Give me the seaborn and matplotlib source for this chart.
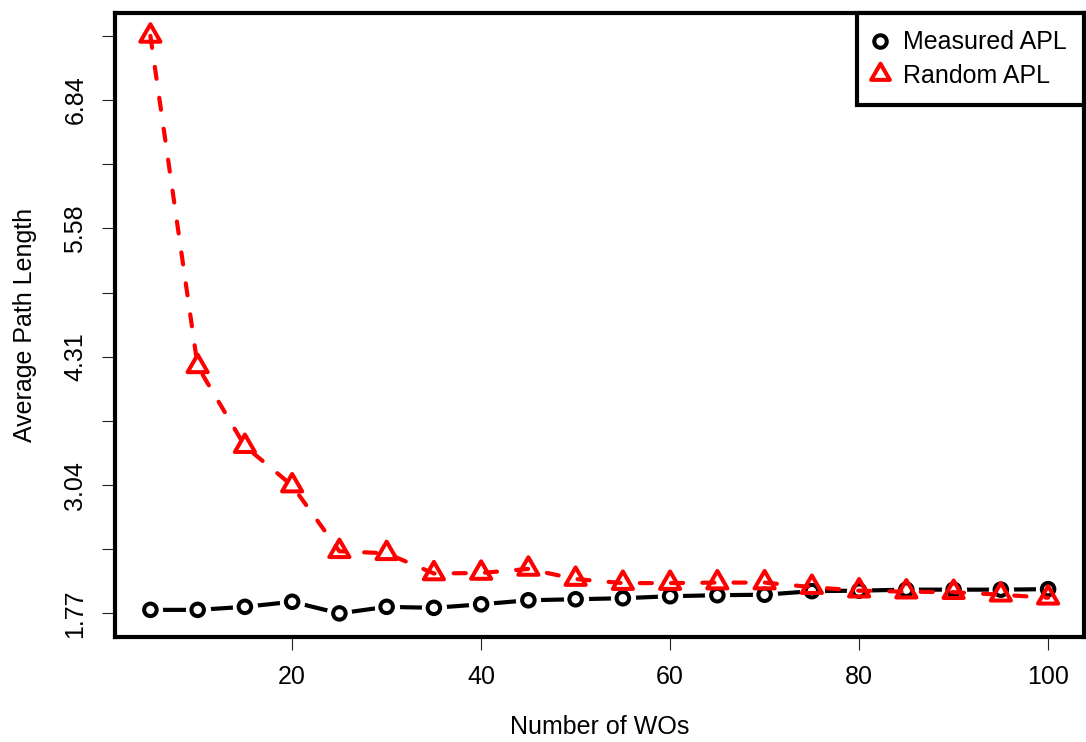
import numpy as np
import pandas as pd
import matplotlib
matplotlib.use("Agg")
import matplotlib.pyplot as plt
import seaborn as sns
from matplotlib.path import Path
from matplotlib.lines import Line2D

# ---- data -------------------------------------------------------------
num_wos = [5, 10, 15, 20, 25, 30, 35, 40, 45, 50,
           55, 60, 65, 70, 75, 80, 85, 90, 95, 100]
measured_apl = [1.80, 1.80, 1.83, 1.88, 1.765, 1.83, 1.82, 1.855, 1.895, 1.905,
                1.915, 1.935, 1.945, 1.95, 1.985, 1.99, 2.00, 2.00, 2.00, 2.005]
random_apl = [7.48, 4.21, 3.42, 3.03, 2.38, 2.36, 2.16, 2.165, 2.205, 2.105,
              2.065, 2.065, 2.07, 2.07, 2.025, 1.99, 1.98, 1.975, 1.95, 1.92]
x_ticks = [20, 40, 60, 80, 100]
y_tick_min, y_tick_max, y_tick_count = 1.765, 7.48, 10
y_tick_labels = ["1.77", "", "3.04", "", "4.31", "", "5.58", "", "6.84", ""]
series_labels = ["Measured APL", "Random APL"]
x_label = "Number of WOs"
y_label = "Average Path Length"

# ---- style ------------------------------------------------------------
sns.set_style("white")
plt.rcParams["font.family"] = ["Liberation Sans", "DejaVu Sans"]
plt.rcParams["text.color"] = "black"
plt.rcParams["axes.labelcolor"] = "black"
plt.rcParams["xtick.color"] = "black"
plt.rcParams["ytick.color"] = "black"
FS = 18

W, H = 1086, 742
fig = plt.figure(figsize=(W / 100, H / 100), dpi=100)
left, right, top, bottom = 114.5, 1084.0, 12.8, 636.5
ax = fig.add_axes([left / W, 1 - bottom / H, (right - left) / W, (bottom - top) / H])

df = pd.DataFrame({"wos": num_wos, "measured": measured_apl, "random": random_apl})

tri = Path([(0, 1), (-0.866, -0.5), (0.866, -0.5), (0, 1)],
           [Path.MOVETO, Path.LINETO, Path.LINETO, Path.CLOSEPOLY])

LW = 3.0
MEW = 2.9

# measured series (solid black, open circles, gaps around points)
sns.lineplot(data=df, x="wos", y="measured", ax=ax, color="black",
             linewidth=LW, zorder=2)
sns.scatterplot(data=df, x="wos", y="measured", ax=ax, s=330, color="white",
                linewidth=0, zorder=3)
sns.scatterplot(data=df, x="wos", y="measured", ax=ax, marker="o", s=81,
                facecolor="none", edgecolor="black", linewidth=MEW, zorder=4)

# random series (dashed red, open triangles)
sns.lineplot(data=df, x="wos", y="random", ax=ax, color="red",
             linewidth=LW, zorder=5)
ax.lines[-1].set_dashes((2.9, 4.6))
ax.lines[-1].set_dash_capstyle("round")
sns.scatterplot(data=df, x="wos", y="random", ax=ax, marker=tri, s=280,
                facecolor="none", edgecolor="red", linewidth=MEW, zorder=6)

# ---- axes -------------------------------------------------------------
ax.set_xlim(1.2, 103.8)
yr = y_tick_max - y_tick_min
ax.set_ylim(y_tick_min - 0.04 * yr, y_tick_max + 0.04 * yr)
ax.set_xticks(x_ticks)
ax.set_xticklabels([str(v) for v in x_ticks])
ax.set_yticks(np.linspace(y_tick_min, y_tick_max, y_tick_count))
ax.set_yticklabels(y_tick_labels)
ax.tick_params(axis="both", which="major", direction="out", length=9.5,
               width=0.8, color="#222222", labelsize=FS, labelcolor="black",
               left=True, bottom=True)
ax.tick_params(axis="x", pad=11)
ax.tick_params(axis="y", pad=10)
for lab in ax.get_yticklabels():
    lab.set_rotation(90)
    lab.set_va("center")
    lab.set_ha("right")

for sp in ax.spines.values():
    sp.set_visible(True)
    sp.set_color("black")
    sp.set_linewidth(3)

ax.set_xlabel(x_label, fontsize=FS, labelpad=19, color="black")
ax.set_ylabel(y_label, fontsize=FS, labelpad=19, color="black")
ax.grid(False)

handles = [
    Line2D([], [], ls="none", marker="o", ms=9, mfc="none", mec="black", mew=MEW),
    Line2D([], [], ls="none", marker=tri, ms=15.5, mfc="none", mec="red", mew=MEW),
]
leg = ax.legend(handles, series_labels, loc="upper right", bbox_to_anchor=(1, 1),
                borderaxespad=0, fontsize=FS, frameon=True, fancybox=False,
                edgecolor="black", framealpha=1, borderpad=0.7,
                labelspacing=0.38, handlelength=0.5, handletextpad=0.65)
leg.get_frame().set_linewidth(3)
leg.set_zorder(10)
for t in leg.get_texts():
    t.set_color("black")

fig.savefig("out.png", dpi=100, facecolor="white")
